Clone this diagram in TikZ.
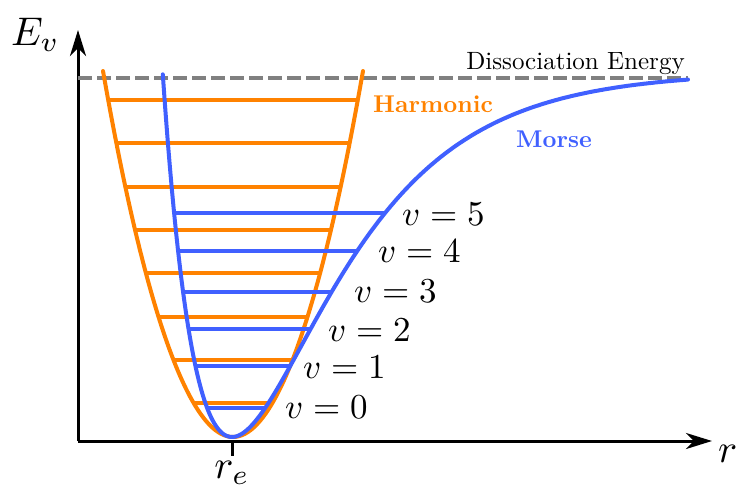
\documentclass[tikz,border=0pt]{standalone}
\usetikzlibrary{arrows.meta}
\definecolor{harmC}{RGB}{255,130,0}
\definecolor{morseC}{RGB}{64,96,255}
\definecolor{dissC}{RGB}{128,128,128}
\newcommand{\vlabtext}[1]{\scalebox{3.5}{$v=#1$}}
\tikzset{
  axisline/.style={line width=3pt, -{Stealth[length=26pt,width=16pt,inset=8pt]}},
  harm/.style={harmC, line width=4pt},
  morse/.style={morseC, line width=4pt},
  disso/.style={dissC, line width=3.2pt, dash pattern=on 14pt off 5pt},
  vlab/.style={anchor=base west, inner sep=0pt},
  axlab/.style={inner sep=0pt},
}
\begin{document}
\begin{tikzpicture}[x=1pt,y=-1pt]
\useasboundingbox (0,0) rectangle (739,485);
% axes
\coordinate (O) at (78,441);
\coordinate (ytip) at (78,30);
\coordinate (xtip) at (712,441);
\draw[axisline] (O) -- (ytip);
\draw[axisline] (O) -- (xtip);
\coordinate (tickTop) at (232,441);
\coordinate (tickBot) at (232,456);
\draw[line width=3pt] (tickTop) -- (tickBot);
% dissociation line
\coordinate (dL) at (78,78);
\coordinate (dR) at (688,78);
\draw[disso] (dL) -- (dR);
% harmonic parabola
\draw[harm, line cap=round] (103,71) parabola bend (233,437) (363,71);
\foreach \y in {100,143,187,230,273,317,360,403} {
  \pgfmathsetmacro\dx{130*sqrt((437-\y)/366)}
  \draw[harm] ({233-\dx},\y) -- ({233+\dx},\y);
}
% morse levels
\foreach \y in {408,366,329,292,251,213} {
  \pgfmathsetmacro\s{sqrt((437-\y)/365)}
  \pgfmathsetmacro\xl{232-ln(1+\s)/0.01}
  \pgfmathsetmacro\xr{232-ln(1-\s)/0.01}
  \draw[morse] (\xl,\y) -- (\xr,\y);
}
% morse curve
\draw[morse, line cap=round, line join=round] plot[domain=162.8:688, samples=240, smooth]
  (\x, {437-365*(1-exp(-0.01*(\x-232)))*(1-exp(-0.01*(\x-232)))});
% labels
\node[axlab, anchor=base west] (Ev) at (11,45) {\scalebox{4}{$E_v$}};
\node[axlab, anchor=base west] (rr) at (718,462) {\scalebox{4}{$r$}};
\node[axlab, anchor=base] (re) at (232,478) {\scalebox{4}{$r_e$}};
\node[anchor=base, inner sep=0pt] (diss) at (575.5,69) {\scalebox{2.5}{Dissociation Energy}};
\node[anchor=base west, inner sep=0pt, harmC] (harmlab) at (373,112) {\scalebox{2.43}{\bfseries Harmonic}};
\node[anchor=base west, inner sep=0pt, morseC] (morselab) at (516,147) {\scalebox{2.42}{\bfseries Morse}};
\node[vlab] (v5) at (402,225) {\vlabtext{5}};
\node[vlab] (v4) at (378,262) {\vlabtext{4}};
\node[vlab] (v3) at (354,302) {\vlabtext{3}};
\node[vlab] (v2) at (328,341) {\vlabtext{2}};
\node[vlab] (v1) at (303,378) {\vlabtext{1}};
\node[vlab] (v0) at (285,418) {\vlabtext{0}};
\end{tikzpicture}
\end{document}
